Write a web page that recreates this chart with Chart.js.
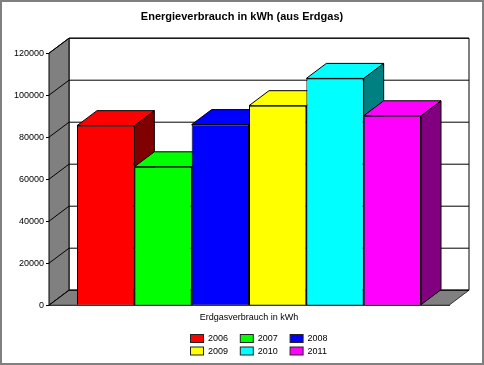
<!DOCTYPE html>
<html>
<head>
<meta charset="utf-8">
<title>Energieverbrauch</title>
<script src="https://cdn.jsdelivr.net/npm/chart.js@4"></script>
<style>
  html, body { margin: 0; padding: 0; background: #fff; }
  canvas { display: block; }
</style>
</head>
<body>
<canvas id="chart" width="484" height="365"></canvas>
<script>
const titleText = "Energieverbrauch in kWh (aus Erdgas)";
const categories = ["Erdgasverbrauch in kWh"];
const years = ["2006", "2007", "2008", "2009", "2010", "2011"];
const values = [85500, 65900, 86000, 95000, 108000, 90200];
const frontColors = ["#ff0000", "#00ff00", "#0000ff", "#ffff00", "#00ffff", "#ff00ff"];
const sideColors = ["#800000", "#008000", "#000080", "#808000", "#008080", "#800080"];
const yMax = 120000;
const yStep = 20000;

const FONT = "'Liberation Sans', Arial, sans-serif";
const DEPTH_X = 20;
const DEPTH_Y = 15;

function poly(ctx, points, fill, stroke) {
  ctx.beginPath();
  points.forEach(([x, y], index) => (index ? ctx.lineTo(x, y) : ctx.moveTo(x, y)));
  ctx.closePath();
  if (fill) {
    ctx.fillStyle = fill;
    ctx.fill();
  }
  if (stroke) {
    ctx.strokeStyle = stroke;
    ctx.lineWidth = 1;
    ctx.stroke();
  }
}

// Excel style 3D look: walls behind, extruded bars painted left to right
const box3d = {
  id: "box3d",
  afterLayout(chart) {
    // title sits in the middle of the whole frame, not of the padded area
    chart.titleBlock.left = 0;
    chart.titleBlock.right = chart.width;
  },
  beforeDraw(chart) {
    const { ctx, width, height } = chart;
    ctx.save();
    ctx.fillStyle = "#fff";
    ctx.fillRect(0, 0, width, height);
    ctx.strokeStyle = "#808080";
    ctx.lineWidth = 2;
    ctx.strokeRect(1, 1, width - 2, height - 2);
    ctx.restore();
  },
  beforeDatasetsDraw(chart) {
    const { ctx, chartArea: area, scales } = chart;
    const { left, right, top, bottom } = area;
    ctx.save();
    poly(ctx, [[left + DEPTH_X, top - DEPTH_Y], [right + DEPTH_X, top - DEPTH_Y],
      [right + DEPTH_X, bottom - DEPTH_Y], [left + DEPTH_X, bottom - DEPTH_Y]], "#fff", "#000");
    poly(ctx, [[left, top], [left + DEPTH_X, top - DEPTH_Y],
      [left + DEPTH_X, bottom - DEPTH_Y], [left, bottom]], "#808080", "#000");
    poly(ctx, [[left, bottom], [left + DEPTH_X, bottom - DEPTH_Y],
      [right + DEPTH_X, bottom - DEPTH_Y], [right, bottom]], "#808080", "#333");
    ctx.strokeStyle = "#000";
    ctx.lineWidth = 1;
    scales.y.ticks.forEach((tick) => {
      const y = scales.y.getPixelForValue(tick.value);
      ctx.beginPath();
      ctx.moveTo(left, y);
      ctx.lineTo(left + DEPTH_X, y - DEPTH_Y);
      ctx.lineTo(right + DEPTH_X, y - DEPTH_Y);
      ctx.stroke();
    });
    ctx.restore();
  },
  beforeDatasetDraw() {
    return false;
  },
  afterDatasetsDraw(chart) {
    const { ctx } = chart;
    ctx.save();
    chart.data.datasets.forEach((dataset, index) => {
      const bar = chart.getDatasetMeta(index).data[0];
      const { x, y, base, width } = bar.getProps(["x", "y", "base", "width"], true);
      const l = x - width / 2;
      const r = x + width / 2;
      poly(ctx, [[r, y], [r + DEPTH_X, y - DEPTH_Y], [r + DEPTH_X, base - DEPTH_Y], [r, base]],
        sideColors[index], "#000");
      poly(ctx, [[l, y], [l + DEPTH_X, y - DEPTH_Y], [r + DEPTH_X, y - DEPTH_Y], [r, y]],
        frontColors[index], "#000");
      bar.draw(ctx);
    });
    // legend in a 3 x 2 grid, the built in one cannot space rows and columns apart
    ctx.font = "9px " + FONT;
    ctx.textBaseline = "middle";
    years.forEach((year, index) => {
      const x = 190.5 + (index % 3) * 49.8;
      const y = 334.5 + Math.floor(index / 3) * 12.5;
      ctx.fillStyle = frontColors[index];
      ctx.fillRect(x, y, 13, 8);
      ctx.strokeStyle = "#222";
      ctx.lineWidth = 1;
      ctx.strokeRect(x, y, 13, 8);
      ctx.fillStyle = "#000";
      ctx.fillText(year, x + 17.5, y + 4.5);
    });
    ctx.restore();
  },
};

new Chart(document.getElementById("chart"), {
  type: "bar",
  data: {
    labels: categories,
    datasets: years.map((year, index) => ({
      label: year,
      data: [values[index]],
      backgroundColor: frontColors[index],
      borderColor: "#000",
      borderWidth: 1,
      categoryPercentage: 0.86,
      barPercentage: 1,
    })),
  },
  options: {
    responsive: false,
    animation: false,
    layout: { padding: { left: 3, right: 35, top: 10, bottom: 39 } },
    plugins: {
      title: {
        display: true,
        text: titleText,
        color: "#000",
        font: { family: FONT, size: 11, weight: "bold" },
        padding: { top: 0, bottom: 30 },
      },
      legend: { display: false },
      tooltip: { enabled: false },
    },
    scales: {
      x: {
        ticks: { color: "#000", font: { family: FONT, size: 9 }, padding: 3 },
        grid: {
          drawOnChartArea: false,
          tickLength: 4,
          color: (context) => (context.index ? "#000" : "transparent"),
        },
        border: { color: "#333" },
      },
      y: {
        min: 0,
        max: yMax,
        afterFit(scale) {
          scale.width = 46;
        },
        ticks: {
          stepSize: yStep,
          color: "#000",
          font: { family: FONT, size: 9 },
          padding: 2,
          callback: (value) => String(value),
        },
        grid: { drawOnChartArea: false, tickLength: 3, color: "#000" },
        border: { color: "#000" },
      },
    },
  },
  plugins: [box3d],
});
</script>
</body>
</html>
